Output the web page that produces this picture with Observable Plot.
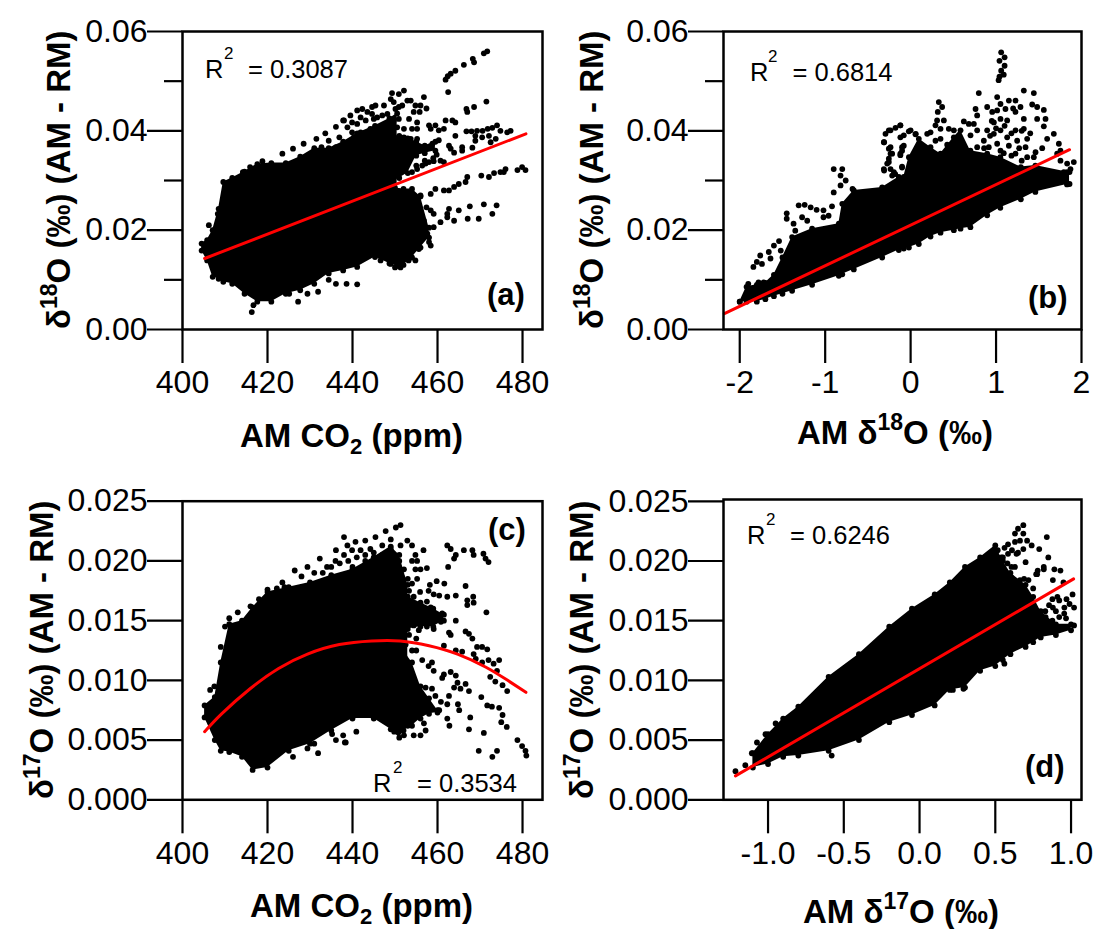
<!DOCTYPE html>
<html>
<head>
<meta charset="utf-8">
<script src="https://cdn.jsdelivr.net/npm/d3@7"></script>
<script src="https://cdn.jsdelivr.net/npm/@observablehq/plot@0.6"></script>
<style>
html,body{margin:0;padding:0;background:#fff;}
#chart{position:relative;width:1096px;height:929px;overflow:hidden;}
#chart svg{position:absolute;overflow:visible;background:transparent;}
</style>
</head>
<body>
<div id="chart"></div>
<script>
// ---------- panel (a): AM CO2 vs delta18O difference ----------
const aCoreX = [404.5,405.8,407.1,408.5,409.6,411.7,414.6,417.6,420.9,424.3,427.7,431,434.4,437.8,441.1,445.3,448.7,450.5];
const aCoreLow = [.0159,.0139,.0106,.0102,.0096,.0092,.0072,.0056,.0056,.0072,.0079,.0092,.0113,.0119,.0126,.0146,.0133,.0128];
const aCoreHigh = [.0173,.018,.02,.0243,.0297,.0305,.0318,.0333,.0335,.0335,.0348,.0365,.0365,.0378,.0395,.041,.0425,.0435];
const aUpperX = [449,451,453,455,457,459.5];
const aUpperLow = [.0295,.0305,.0315,.035,.0355,.036];
const aUpperHigh = [.039,.039,.0385,.0378,.037,.0378];
const aLowerX = [450,452,454,456,458];
const aLowerLow = [.0125,.013,.0145,.0165,.0185];
const aLowerHigh = [.0285,.0283,.0283,.0268,.0205];
const aDots = [[452.1,.0481],[450.9,.0474],[449.3,.0476],[449,.0464],[447.4,.0451],[445.4,.0451],[444.6,.0448],[442.3,.0444],[441.1,.0441],[439.5,.0431],[438,.0421],
[456.8,.0468],[456,.0451],[457.4,.0445],[454.8,.0451],[455.8,.0438],[454.4,.0438],[452.9,.0461],[453.7,.0461],
[449,.0364],[450.9,.0371],[452.9,.0367],[454.8,.0374],[456.8,.0367],[458.8,.0374],[460.3,.0381],[455.2,.0384],[453.7,.0384],[452.1,.0387],
[455.2,.0417],[455.2,.0404],[454,.0404],[452.1,.0404],[450.5,.0407],[449,.0397],[447.4,.0407],[445.8,.0427],[448.2,.0434],[450.1,.0444],[451.7,.0451],[453.3,.0424],
[458,.0411],[459.5,.0411],[460.3,.0401],[461.5,.0404],[461.9,.0421],[463.5,.0421],[464.2,.0417],[458.4,.0404],
[462.7,.037],[463.1,.0364],[464.2,.039],[465.8,.0367],[465.8,.036],[468.2,.0366],[463.9,.0356],[459.8,.0352],
[454,.0317],[455.2,.0323],[456.4,.033],[457.2,.0334],[458,.0337],[459.1,.0339],[460.7,.034],[461.5,.0337],[455,.033],[457,.034],[459,.0345],
[466.8,.0399],[468,.0399],[469.3,.04],[470.6,.04],[471.8,.0404],[472.9,.0406],[474,.0411],[474.8,.04],[476.4,.0397],[477.2,.04],[468.9,.039],[468.9,.038],[470.5,.0387],[472.1,.039],[473.7,.0384],[472.5,.0377],
[471.7,.056],[470.9,.0556],[468.3,.0545],[468.6,.0538],[466.2,.0533],[464.2,.0521],[463.1,.0515],[462.4,.051],[461.9,.0503],[462.5,.0478],[471.5,.0459],[468.6,.0448],[466.8,.0444],[467,.0438],
[480.7,.0321],[479.9,.0327],[478.8,.0321],[476,.0323],[475.6,.0317],[474.8,.0317],[473.3,.0315],[472.1,.0307],[470.3,.031],[467,.0307],[466.6,.0297],[465,.0293],[463.9,.0287],[462.7,.028],[461.5,.028],[459.5,.0283],[458.4,.0273],[456,.027],
[473.9,.025],[470.9,.0252],[467.6,.0248],[472.9,.0233],[469.7,.0223],[467.1,.0223],[465,.024],[462.7,.0243],[462.3,.0233],[463.9,.0219],[462.3,.0226],[460.7,.0216],[459.1,.0233],[458.4,.024],[457.4,.0246],[456,.0236],[456.8,.0219],[459.1,.0206],[457.6,.0193],[455.6,.0186],[458,.0176],[458.4,.0169],[455.6,.0162],[454.8,.0139],[453.2,.0139],[451.3,.0125],[449,.0132],[446.6,.0139],
[438.8,.0407],[441.1,.0414],[443.1,.0421],[445,.0424],[441.9,.0397],[444.2,.0404],[446.2,.0394],[440.3,.0387],[442.7,.038],[445,.038],[447,.0374],[448.2,.038],[445.8,.0407],[443.5,.0438],[447,.0431],[441.9,.0427],[439.9,.0417],[449.7,.0421],[450.9,.0424],[449,.0414],[444.6,.0434],[450.9,.0448],[449.7,.0458],
[434.4,.038],[436.9,.0387],[439.9,.0397],[436.1,.0367],[432.7,.0367],[439,.0374],[442,.0387],
[437.8,.0421],[436.1,.0408],[433.6,.0395],[431.5,.0384],[428.5,.0374],[426,.0364],[423.5,.0354],[418.8,.0339],[415.9,.0327],[414.2,.0317],[406.2,.021],[408.3,.0233],
[441.1,.0091],[438.6,.0092],[436.1,.0092],[434.4,.01],[431.9,.0076],[429.4,.0072],[427.2,.0056],[425.1,.0072],[416.3,.0035],[416.7,.0049]];
const aFitX = [405.2,480.8];
const aFitY = [.0143,.0394];

// ---------- panel (b): AM delta18O vs delta18O difference ----------
const bCoreX = [-2,-1.92,-1.8,-1.7,-1.6,-1.5,-1.387,-1.153,-.84,-.8,-.665,-.333,-.138,-.08,-.02,.096,.233,.35,.506,.584,.7,.896,1.05,1.29,1.46,1.83,1.86];
const bCoreLow = [.0056,.0056,.0056,.0061,.0067,.0072,.0078,.009,.0108,.0111,.0121,.0145,.016,.0163,.0165,.0172,.0187,.0195,.02,.0203,.0206,.023,.0245,.0262,.0277,.0292,.0293];
const bCoreHigh = [.0056,.0086,.009,.0094,.011,.0145,.0186,.0203,.0213,.0253,.028,.0286,.0307,.0307,.0347,.0384,.0367,.0354,.0387,.0401,.036,.0354,.0347,.0327,.033,.0317,.0317];
const bDots = [[1.06,.0558],[1.1,.0548],[1.04,.0541],[1.1,.0531],[1.06,.0521],[1.09,.0513],[1.04,.0509],[1.03,.0502],
[-.12,.0411],[-.177,.0406],[-.235,.0401],[-.294,.0394],[-.313,.0377],[-.235,.0367],[-.216,.0354],[-.08,.037],[-.12,.0354],[-.1,.036],[-.021,.0399],[.057,.0393],[-.08,.0391],[-.12,.0387],[-.255,.0344],[-.274,.0334],[-.313,.0323],[-.235,.0323],[-.216,.031],[-.1,.0328],[-.196,.0317],[-.138,.0305],
[.33,.0458],[.369,.0448],[.318,.0438],[.31,.0421],[.389,.0421],[.291,.0411],[.233,.0397],[.194,.0394],[.35,.0404],[.447,.0404],[.506,.0401],[.623,.0419],[.681,.0414],[.35,.0384],[.291,.038],[.428,.0372],
[.798,.0476],[1.013,.0468],[1.052,.0454],[1.15,.0461],[1.228,.0461],[1.325,.0481],[1.442,.0476],[1.423,.0453],[1.481,.0448],[1.559,.0442],[1.579,.0424],[1.481,.0424],[1.559,.0409],[1.676,.0394],[1.598,.0384],[1.735,.0374],[1.754,.036],[1.715,.0354],[1.54,.0365],[1.462,.0357],[1.442,.0347],
[.76,.0444],[.779,.0431],[.896,.0448],[.955,.0438],[1.013,.0441],[1.11,.0444],[1.228,.0438],[1.286,.0448],[1.325,.0424],[1.228,.0401],[1.325,.0404],[1.13,.0421],[1.052,.0424],[.974,.0417],[.974,.0394],[.896,.0401],[.74,.0414],[.779,.0401],[.857,.038],[.701,.0391],[1.052,.0401],[1.13,.0387],[1.247,.038],[1.364,.0384],[1.345,.0367],[1.15,.037],[1.013,.0374],[.779,.0367],[.915,.0367],[1.228,.0354],[1.052,.036],[1.091,.0334],[1.364,.0347],[1.91,.0337],[1.832,.0334],[1.754,.034],[1.871,.0323],[1.793,.0317],
[1.2,.0445],[1.1,.041],[1.0,.0405],[.93,.039],[.95,.042],[1.18,.0395],[1.3,.04],[1.27,.0365],[1.4,.0395],[.86,.0365],[1.09,.0355],[1.18,.035],[1.3,.034],
[-.9,.0323],[-.8,.0323],[-.82,.031],[-.76,.03],[-.82,.029],[-.9,.0276],[-.68,.0283],
[-1.31,.025],[-1.24,.0251],[-1.17,.0246],[-1.1,.0241],[-1.02,.024],[-.92,.0248],[-1.45,.0234],[-1.45,.0223],[-1.27,.0226],[-1.21,.0219],[-.96,.0229],[-1.02,.0226],[-1.37,.0213],[-1.35,.0199],
[-1.54,.0178],[-1.6,.0169],[-1.66,.0156],[-1.76,.0149],[-1.64,.0143],[-1.8,.0136],[-1.84,.0126],[-1.74,.0132],[-1.52,.0159],
[-.255,.0401],[-.12,.0411],[0,.0401],[.06,.0394],[-.31,.0377],[-.255,.0364],[-.235,.0354],[-.1,.0367],[-.31,.032],[-.255,.0337],[-.12,.0351],[-.1,.0326],[-.18,.0313],
[-1.9,.0092],[-1.78,.0095],[-1.72,.0095]];
const bFitX = [-2.18,1.86];
const bFitY = [.0032,.0362];

// ---------- panel (c): AM CO2 vs delta17O difference ----------
const cCoreX = [405.2,407.6,409,411,414,416.5,420,425,430,435,440,445,449,451,453];
const cCoreLow = [.0069,.005,.0041,.004,.0036,.0025,.0027,.0041,.0047,.0058,.0068,.0068,.0059,.0052,.0062];
const cCoreHigh = [.0079,.0086,.0115,.0147,.015,.0161,.0174,.0178,.0182,.0188,.0193,.0203,.0212,.0205,.018];
const cFingerX = [450,453,456,459,461.5];
const cFingerLow = [.0143,.0143,.0145,.0145,.015];
const cFingerHigh = [.0172,.017,.0165,.016,.0155];
const cLowerX = [452,454,456,458,460];
const cLowerLow = [.0058,.0062,.0068,.0072,.0073];
const cLowerHigh = [.0125,.0115,.0095,.0085,.0075];
const cDots = [[451.3,.023],[450.2,.0228],[447.8,.0225],[445.4,.022],[443,.0217],[440.7,.0216],[438,.022],[438.8,.0213],[452.9,.0217],[454,.0213],[451.3,.0213],[449,.0218],[447,.0213],[444.2,.021],[441.9,.0209],[439.9,.0209],
[462.3,.0213],[463.1,.021],[464.3,.0205],[463.9,.0202],[466.2,.0209],[468.2,.0209],[468.5,.0205],[470.8,.0206],[471.3,.0202],[472,.0199],[462.5,.0195],[456.7,.0209],[454.8,.0205],[455.2,.02],[454.8,.0193],[457.5,.0194],[456,.0193],[454,.02],[452.1,.0193],[449.8,.0191],[447.4,.0191],[450.1,.0185],[451.7,.0186],[455.2,.0185],[454,.0181],[455.9,.0174],[453.3,.0175],[454.4,.017],[452.5,.017],[451.3,.0175],
[459.8,.0183],[461.6,.0181],[458.2,.018],[457.9,.0175],[459.1,.0172],[460.4,.0171],[462.3,.017],[464.3,.0171],[466.6,.0179],[468.4,.017],[467,.0167],[468.5,.0165],[467,.0163],[457.5,.0166],[471.5,.0157],[464.3,.015],[461.1,.0156],[460.4,.0151],[459.1,.0157],[458.4,.0161],[456,.0163],[453.7,.0163],[452.1,.0164],[460.8,.0149],[459.1,.0143],[457.5,.0145],[455.6,.0142],[462.7,.014],[463.1,.0138],[466.6,.0141],[467.4,.0139],[468.2,.0135],[461.5,.0129],[469.3,.0128],[470.5,.0128],[471.7,.0126],[464.3,.0125],[465.8,.0124],[468.5,.0122],[472,.0117],[474.5,.0117],[473.2,.0114],[474,.0108],[470.5,.0115],[469,.0118],[472.4,.0103],[473.6,.0099],[475.3,.0096],[476.4,.0091],
[456.4,.0117],[457.9,.0112],[459.1,.0108],[458.7,.0115],[461.5,.0105],[463.1,.0107],[464.3,.0104],[461.1,.0102],[464.7,.0098],[463.9,.0094],[466.6,.0097],[467.4,.0091],[465.4,.0093],
[457.2,.0094],[458.7,.0093],[456,.009],[459.5,.0087],[462.7,.0087],[470.3,.0086],[460.8,.0082],[462.3,.008],[464.8,.008],[465.1,.0075],[471.7,.0079],[472.8,.0078],[474.5,.0077],[475.3,.0071],[475,.0065],[476.3,.0061],
[460.4,.0075],[462.3,.0068],[462.8,.0062],[467.7,.0069],[467.4,.0059],[470.9,.0056],[456.8,.0064],[457.2,.0058],[456,.0054],[454.4,.0054],[452.1,.0054],[449.8,.0057],[478.8,.005],[479.9,.0045],[480.7,.0041],[480.9,.0037],[469.7,.0041],[474,.0041],[472.9,.0036],[440.9,.0057],[438.4,.0048],
[454.4,.0146],[453.3,.0138],[451.7,.0138],[452.5,.013],[454,.0125],[455,.0135],[453,.0152],[455,.0125],
[436.1,.0209],[432.3,.0202],[429.4,.0195],[426.4,.0192],[423.5,.0182],[422.2,.0177],[435.2,.0055],[438.2,.0048],[436.1,.005],[431.9,.0039],[429.4,.0043],[426,.0036],[431,.0047],[437.8,.0054],
[433,.019],[435,.0195],[437,.0198],[439,.02],[441,.0203],[443,.0205],[445,.0207],[447,.0205],[449,.021],[443,.02],[446,.0198],[440,.0195],[438,.0205],[436,.02],[434,.0195],[431,.019],[428,.0187],[424,.0178],[420,.0176],[418,.0168],[416,.0162],[413,.0157],[411,.0152],[410,.0145],[409,.0128],[407.5,.0095],[406.5,.0092],[449.5,.0198],[451,.02],[453,.0185]];
const cFitX = [405.2,409.2,415.9,422.6,429.4,436.9,444.5,451.2,458,464.7,471.4,476.5,480.8];
const cFitY = [.0057,.0072,.0093,.011,.0122,.013,.0133,.0133,.0129,.0122,.0111,.01,.009];

// ---------- panel (d): AM delta17O vs delta17O difference ----------
const dCoreX = [-1.1,-1,-.9,-.8,-.6,-.4,-.2,-.05,.1,.2,.3,.4,.5,.55,.6,.7,.75,.8,.9,1];
const dCoreLow = [.0027,.003,.0036,.0037,.0041,.005,.0065,.0071,.0079,.0092,.0094,.0108,.0112,.0117,.0122,.0128,.0132,.0136,.0138,.0142];
const dCoreHigh = [.0039,.0055,.0068,.0078,.0103,.0122,.0145,.016,.0172,.0182,.0195,.0203,.0213,.02,.019,.018,.017,.0158,.0147,.0147];
const dDots = [[.685,.023],[.65,.0227],[.685,.0223],[.63,.0223],[.71,.0217],[.74,.0213],[.79,.021],[.85,.0203],[.84,.022],[.82,.0195],[.78,.0192],[.89,.0193],[.93,.0192],[.77,.0189],[.69,.0185],[.88,.0184],[.95,.0182],[.75,.0177],[.7,.0199],[.65,.0207],[.61,.0209],[.58,.0198],[.54,.0203],[.53,.0195],[.56,.0186],[.63,.0195],[.62,.0184],
[.516,.0209],[.55,.0203],[.528,.0198],[.561,.0192],[.607,.0195],[.64,.0206],[.63,.0216],[.584,.0214],[.663,.0217],[.685,.021],[.584,.0206],[.561,.0211],[.539,.0189],[.607,.0186],[.663,.0184],[.719,.0184],[.776,.0189],[.82,.0193],
[.877,.0168],[.922,.0167],[.855,.0163],[.9,.0158],[.956,.0161],[.832,.0153],[.877,.015],[.922,.0153],[.967,.0152],
[1.01,.0172],[.99,.0164],[1.02,.0161],[.955,.0156],[.91,.017],[.97,.0168],[.88,.0161],[.83,.0158],[1.02,.0146],[.56,.0114],[.29,.0093],[.22,.0092],[-.58,.0037],
[-1.215,.0024],[-1.15,.0029],[-1.107,.0039],[-1.073,.0048],[-1.017,.0055],[-.95,.0064]];
const dFitX = [-1.215,1.017];
const dFitY = [.002,.0185];

// ---------- axis values ----------
const co2Ticks = [400,420,440,460,480];
const d18Ticks = [-2,-1,0,1,2];
const d17Ticks = [-1,-.5,0,.5,1];
const yTicks18 = [0,.02,.04,.06];
const yMinor18 = [.01,.03,.05];
const yTicks17 = [0,.005,.01,.015,.02,.025];

const FONT = "'Liberation Sans', Arial, sans-serif";
const DOT = 2.9;
const rows = (x,lo,hi) => x.map((v,i)=>({x:v,lo:lo[i],hi:hi[i]}));
const pts = (x,y) => x.map((v,i)=>({x:v,y:y[i]}));
const hy = s => s.replace("\u2212","-");

function panel(o){
  const marks = [];
  for (const r of o.areas){
    marks.push(Plot.areaY(r,{x:"x",y1:"lo",y2:"hi",fill:"black"}));
    marks.push(Plot.dot(r,{x:"x",y:"lo",r:DOT,fill:"black"}));
    marks.push(Plot.dot(r,{x:"x",y:"hi",r:DOT,fill:"black"}));
  }
  marks.push(Plot.dot(o.dots,{x:d=>d[0],y:d=>d[1],r:DOT,fill:"black"}));
  marks.push(Plot.line(o.fit,{x:"x",y:"y",stroke:"#f00",strokeWidth:3,curve:"natural"}));
  marks.push(Plot.frame({stroke:"black",strokeWidth:2.5}));
  marks.push(Plot.axisX(o.xTicks,{tickSize:34,tickPadding:7,fontSize:32,strokeWidth:2.2,stroke:"black",fill:"black",tickFormat:o.xFormat,label:null}));
  marks.push(Plot.axisY(o.yTicks,{tickSize:35,tickPadding:0,fontSize:32,strokeWidth:2.2,stroke:"black",fill:"black",tickFormat:o.yFormat,label:null}));
  if (o.yMinor) marks.push(Plot.axisY(o.yMinor,{tickSize:18,strokeWidth:2.2,stroke:"black",fill:"none",label:null}));
  const svg = Plot.plot({
    width:o.w,height:o.h,
    marginLeft:o.fl-o.ox,marginRight:o.w-(o.fr-o.ox),marginTop:o.ft-o.oy,marginBottom:o.h-(o.fb-o.oy),
    x:{domain:o.xDomain},y:{domain:o.yDomain},
    style:{fontFamily:FONT,background:"transparent",color:"black"},
    marks
  });
  svg.style.left = o.ox+"px"; svg.style.top = o.oy+"px";
  document.getElementById("chart").appendChild(svg);

  const s = d3.select(svg);
  const txt = (x,y,str,size,weight,anchor="start") =>
    s.append("text").attr("x",x-o.ox).attr("y",y-o.oy).attr("font-family",FONT)
      .attr("font-size",size).attr("font-weight",weight).attr("fill","black").attr("text-anchor",anchor).text(str);
  txt(o.r2[0],o.r2[1],"R",25.5,"normal");
  txt(o.r2[2],o.r2[3],"2",17,"normal");
  txt(o.r2[4],o.r2[1],"= "+o.r2[5],25.5,"normal");
  txt(o.tag[0],o.tag[1],o.tag[2],31,"bold");
  const xt = txt(o.xt[0],o.xt[1],"",o.xt[2],"bold");
  for (const [t,size,dy] of o.xParts) xt.append("tspan").attr("font-size",size).attr("dy",dy).text(t);
  const yt = s.append("text").attr("transform",`translate(${o.yt[0]-o.ox},${o.yt[1]-o.oy}) rotate(-90)`)
    .attr("text-anchor","start").attr("font-family",FONT).attr("font-size",o.yt[2]).attr("font-weight","bold").attr("fill","black");
  for (const [t,size,dy] of o.yParts) yt.append("tspan").attr("font-size",size).attr("dy",dy).text(t);
}

const yTitle = iso => [["\u03b4",33,0],[iso,23,-13],["O",33,13],[" (\u2030) (AM - RM)",33,0]];
const xIso = iso => [["AM \u03b4",33,0],[iso,23,-14],["O (\u2030)",33,14]];
const xCo2 = [["AM CO",33,0],["2",22,7],[" (ppm)",33,-7]];

panel({ox:0,oy:0,w:560,h:470,fl:182,fr:542,ft:31,fb:329,
  xDomain:[400,484.7],yDomain:[0,.06],xTicks:co2Ticks,yTicks:yTicks18,yMinor:yMinor18,
  xFormat:d=>String(d),yFormat:d3.format(".2f"),
  areas:[rows(aCoreX,aCoreLow,aCoreHigh),rows(aUpperX,aUpperLow,aUpperHigh),rows(aLowerX,aLowerLow,aLowerHigh)],
  dots:aDots,fit:pts(aFitX,aFitY),
  r2:[205,78,224,59,248,"0.3087"],tag:[487,305,"(a)"],
  xt:[240,447,33],xParts:xCo2,yt:[70,329,33],yParts:yTitle("18")});

panel({ox:560,oy:0,w:536,h:470,fl:723,fr:1081,ft:31,fb:329,
  xDomain:[-2.19,2],yDomain:[0,.06],xTicks:d18Ticks,yTicks:yTicks18,yMinor:yMinor18,
  xFormat:d=>String(d),yFormat:d3.format(".2f"),
  areas:[rows(bCoreX,bCoreLow,bCoreHigh)],
  dots:bDots,fit:pts(bFitX,bFitY),
  r2:[750,81,768,62,792.5,"0.6814"],tag:[1028,308,"(b)"],
  xt:[797,444,33],xParts:xIso("18"),yt:[603,329,33],yParts:yTitle("18")});

panel({ox:0,oy:470,w:560,h:459,fl:182,fr:542,ft:500.7,fb:799.3,
  xDomain:[400,484.7],yDomain:[0,.025],xTicks:co2Ticks,yTicks:yTicks17,
  xFormat:d=>String(d),yFormat:d3.format(".3f"),
  areas:[rows(cCoreX,cCoreLow,cCoreHigh),rows(cFingerX,cFingerLow,cFingerHigh),rows(cLowerX,cLowerLow,cLowerHigh)],
  dots:cDots,fit:pts(cFitX,cFitY),
  r2:[373,791.7,393,772.7,417,"0.3534"],tag:[488,540,"(c)"],
  xt:[250,917,33],xParts:xCo2,yt:[52.5,799,33],yParts:yTitle("17")});

panel({ox:560,oy:470,w:536,h:459,fl:723,fr:1081,ft:499,fb:799.3,
  xDomain:[-1.294,1.069],yDomain:[0,.02515],xTicks:d17Ticks,yTicks:yTicks17,
  xFormat:d=>hy(d3.format(".1f")(d)),yFormat:d3.format(".3f"),
  areas:[rows(dCoreX,dCoreLow,dCoreHigh)],
  dots:dDots,fit:pts(dFitX,dFitY),
  r2:[747,544,766,525,790,"0.6246"],tag:[1025,777,"(d)"],
  xt:[803,923,33],xParts:xIso("17"),yt:[592.5,799,33],yParts:yTitle("17")});
</script>
</body>
</html>
